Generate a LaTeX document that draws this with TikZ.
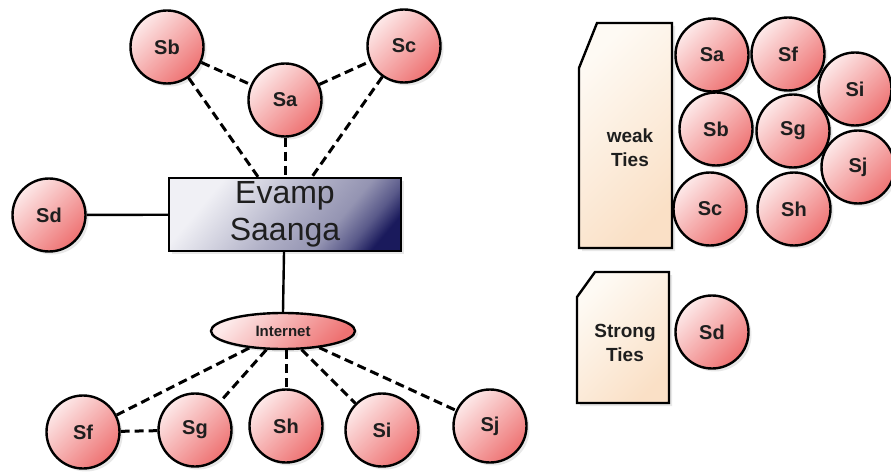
\documentclass[tikz,border=0pt]{standalone}
\usepackage{fontspec}
\setmainfont{Liberation Sans}
\usetikzlibrary{shadows,shapes.geometric}
\definecolor{pinkL}{HTML}{FDE9E9}
\definecolor{pinkD}{HTML}{EE7272}
\definecolor{boxA}{HTML}{F0F0F5}
\definecolor{boxB}{HTML}{CFCFDD}
\definecolor{boxC}{HTML}{AEAEC5}
\definecolor{boxE}{HTML}{9494B2}
\definecolor{boxF}{HTML}{5A5A8A}
\definecolor{boxD}{HTML}{1A1A5C}
\definecolor{tieL}{HTML}{FEFAF4}
\definecolor{tieD}{HTML}{FAE0C6}
\definecolor{txt}{HTML}{1E1E1E}
\pgfdeclarehorizontalshading{hubshade}{100bp}{color(0bp)=(boxA); color(28bp)=(boxA); color(40bp)=(boxB); color(52bp)=(boxC); color(64bp)=(boxE); color(72bp)=(boxF); color(78bp)=(boxD); color(100bp)=(boxD)}
\tikzset{
  shadowed/.style={drop shadow={opacity=0.18,shadow xshift=3pt,shadow yshift=-3pt}},
  circ/.style={circle, draw=black, line width=2.4pt, minimum size=73pt, inner sep=0pt,
    left color=pinkL, right color=pinkD, shading angle=45, text=txt,
    font=\fontsize{20}{20}\selectfont\bfseries, shadowed},
  hubbox/.style={rectangle, draw=black, line width=2.4pt, minimum width=232pt, minimum height=73pt,
    inner sep=0pt, shading=hubshade, shading angle=-40,
    text=txt, align=center, font=\fontsize{32}{37}\selectfont, shadowed},
  netell/.style={ellipse, draw=black, line width=2.4pt, minimum width=144pt, minimum height=36pt,
    inner sep=0pt, left color=pinkL, right color=pinkD, shading angle=45, text=txt,
    font=\fontsize{15}{15}\selectfont\bfseries, shadowed},
  tiebox/.style={draw=black, line width=2.4pt, left color=tieL, right color=tieD, shading angle=45, shadowed},
  tielabel/.style={align=center, text=txt, font=\fontsize{19}{24}\selectfont\bfseries},
  dlink/.style={line width=3pt, dash pattern=on 9pt off 5pt},
  slink/.style={line width=2.4pt},
}
\begin{document}
\begin{tikzpicture}[x=1pt,y=-1pt]
\useasboundingbox (0,0) rectangle (891,473);

% left network
\node[circ] (lSb) at (167,47) {Sb};
\node[circ] (lSc) at (404,46) {Sc};
\node[circ] (lSa) at (285,100) {Sa};
\node[circ] (lSd) at (49,215) {Sd};
\node[hubbox] (evamp) at (285,214.5) {Evamp\\Saanga};
\node[netell] (net) at (283,331) {Internet};
\node[circ] (lSf) at (83,432) {Sf};
\node[circ] (lSg) at (195,430) {Sg};
\node[circ] (lSh) at (286,426) {Sh};
\node[circ] (lSi) at (382,430) {Si};
\node[circ] (lSj) at (490,426) {Sj};

\draw[dlink] (lSb) -- (lSa);
\draw[dlink] (lSa) -- (lSc);
\draw[dlink] (lSb) -- ([xshift=-27pt]evamp.north);
\draw[dlink] (lSa) -- (evamp.north);
\draw[dlink] (lSc) -- ([xshift=27pt]evamp.north);
\draw[slink] (lSd) -- (evamp);
\draw[slink] ([xshift=-1pt]evamp.south) -- (net.north);
\draw[dlink] (net) -- (lSf);
\draw[dlink] (net) -- (lSg);
\draw[dlink] (net.south -| lSh) -- (lSh);
\draw[dlink] (net) -- (lSi);
\draw[dlink] (net) -- (lSj);
\draw[dlink] (lSf) -- (lSg);

% right panel
\path[tiebox] (597,23) -- (672,23) -- (672,248) -- (579,248) -- (579,68) -- cycle;
\node[tielabel] (weak) at (630,148) {weak\\Ties};
\path[tiebox] (595,272) -- (669,272) -- (669,403) -- (577,403) -- (577,297) -- cycle;
\node[tielabel] (strong) at (625,343) {Strong\\Ties};

\node[circ] (rSa) at (712,55) {Sa};
\node[circ] (rSf) at (788,54) {Sf};
\node[circ] (rSi) at (855,89) {Si};
\node[circ] (rSb) at (716,129) {Sb};
\node[circ] (rSg) at (793,131) {Sg};
\node[circ] (rSj) at (858,167) {Sj};
\node[circ] (rSc) at (710,209) {Sc};
\node[circ] (rSh) at (794,209) {Sh};
\node[circ] (rSd) at (712,332) {Sd};
\end{tikzpicture}
\end{document}
